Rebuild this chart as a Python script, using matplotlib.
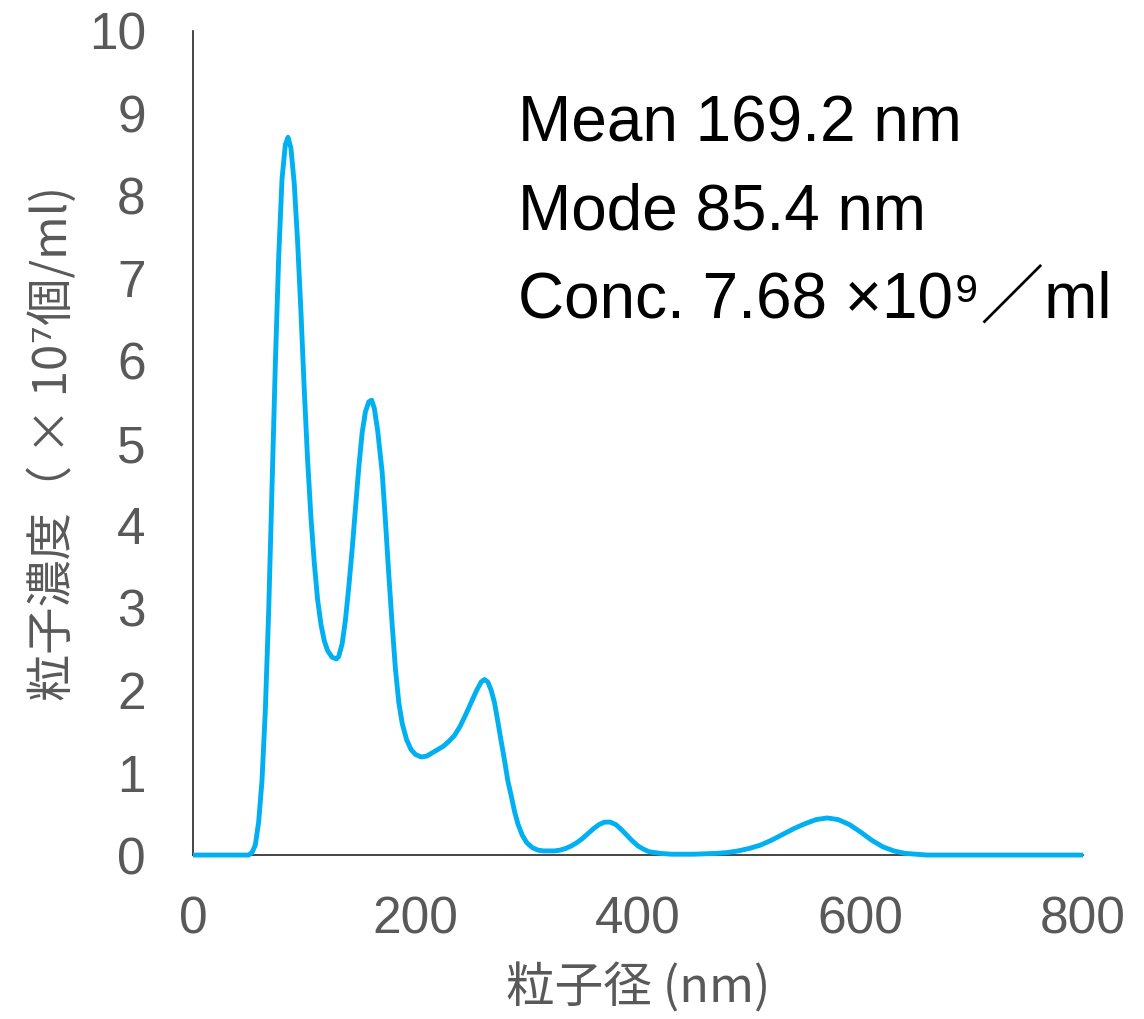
import matplotlib
matplotlib.use("Agg")
import matplotlib.pyplot as plt

plt.rcParams['font.family'] = ['Liberation Sans', 'Noto Sans CJK JP', 'DejaVu Sans']

# particle size (nm) and concentration (x10^7 /ml)
size_nm = [0, 50, 53, 56, 59, 62, 65, 68, 71, 74, 77, 80, 83, 85.4, 88, 91, 94, 97,
           100, 103, 106, 109, 112, 115, 118, 121, 125, 129, 131, 134, 137, 140,
           143, 146, 149, 152, 155, 158, 160.6, 163, 166, 170, 173, 176, 179, 182,
           185, 188, 192, 196, 200, 205, 210, 215, 220, 225, 230, 235, 240, 245,
           250, 255, 259, 262, 265, 268, 271, 274, 277, 280, 283, 286, 289, 292,
           296, 300, 305, 310, 315, 320, 325, 330, 335, 340, 345, 350, 355, 360,
           365, 370, 375, 380, 385, 390, 395, 400, 405, 410, 420, 430, 450, 470,
           480, 490, 500, 510, 520, 530, 540, 550, 560, 570, 580, 590, 600, 610,
           620, 630, 640, 650, 660, 800]
conc = [0.0, 0.0, 0.03, 0.12, 0.40, 0.90, 1.75, 2.95, 4.45, 5.95, 7.25, 8.20, 8.62,
        8.71, 8.58, 8.15, 7.45, 6.60, 5.65, 4.80, 4.10, 3.55, 3.10, 2.80, 2.60,
        2.48, 2.40, 2.38, 2.41, 2.56, 2.85, 3.25, 3.70, 4.20, 4.70, 5.12, 5.38,
        5.50, 5.52, 5.42, 5.15, 4.65, 4.05, 3.40, 2.80, 2.25, 1.85, 1.60, 1.40,
        1.28, 1.22, 1.19, 1.20, 1.24, 1.28, 1.32, 1.38, 1.45, 1.56, 1.70, 1.85,
        2.00, 2.10, 2.13, 2.10, 2.00, 1.85, 1.62, 1.38, 1.15, 0.90, 0.72, 0.53,
        0.38, 0.24, 0.15, 0.09, 0.06, 0.05, 0.05, 0.05, 0.06, 0.08, 0.11, 0.15,
        0.20, 0.26, 0.32, 0.37, 0.40, 0.40, 0.37, 0.31, 0.24, 0.17, 0.11, 0.07,
        0.04, 0.02, 0.01, 0.01, 0.02, 0.03, 0.05, 0.08, 0.12, 0.18, 0.25, 0.32,
        0.38, 0.43, 0.45, 0.43, 0.37, 0.28, 0.18, 0.10, 0.05, 0.02, 0.01, 0.0, 0.0]

x_ticks = [0, 200, 400, 600, 800]
y_ticks = list(range(0, 11))
x_label = "粒子径 (nm)"
y_label = "粒子濃度（ × 10⁷個/ml)"
stats_lines = ["Mean 169.2 nm", "Mode 85.4 nm", "Conc. 7.68 ×10⁹／ml"]

fig = plt.figure(figsize=(11.44, 10.19), dpi=100)
ax = fig.add_axes([0.1687, 0.1609, 0.9467 - 0.1687, 0.9696 - 0.1609])

ax.plot(size_nm, conc, color='#00B0F0', lw=3.5, solid_capstyle='butt',
        solid_joinstyle='round', zorder=3, clip_on=False)

ax.set_xlim(0, 800)
ax.set_ylim(0, 10)
ax.set_xticks(x_ticks)
ax.set_yticks(y_ticks)
ax.tick_params(axis='both', length=0, labelsize=37, labelcolor='#595959')
ax.tick_params(axis='y', pad=34)
ax.tick_params(axis='x', pad=29)

for s in ['top', 'right']:
    ax.spines[s].set_visible(False)
for s in ['left', 'bottom']:
    ax.spines[s].set_color('#262626')
    ax.spines[s].set_linewidth(1.2)

cjk = ['Noto Sans CJK JP', 'DejaVu Sans']
ax.set_xlabel(x_label, fontsize=35, color='#595959', labelpad=14, family=cjk)
ax.set_ylabel(y_label, fontsize=34, color='#595959', labelpad=8, family=cjk)

for i, line in enumerate(stats_lines):
    ax.text(0.365, 0.887 - i * 0.107, line, transform=ax.transAxes,
            fontsize=46, color='black', ha='left', va='center')

fig.savefig("out.png", dpi=100)
